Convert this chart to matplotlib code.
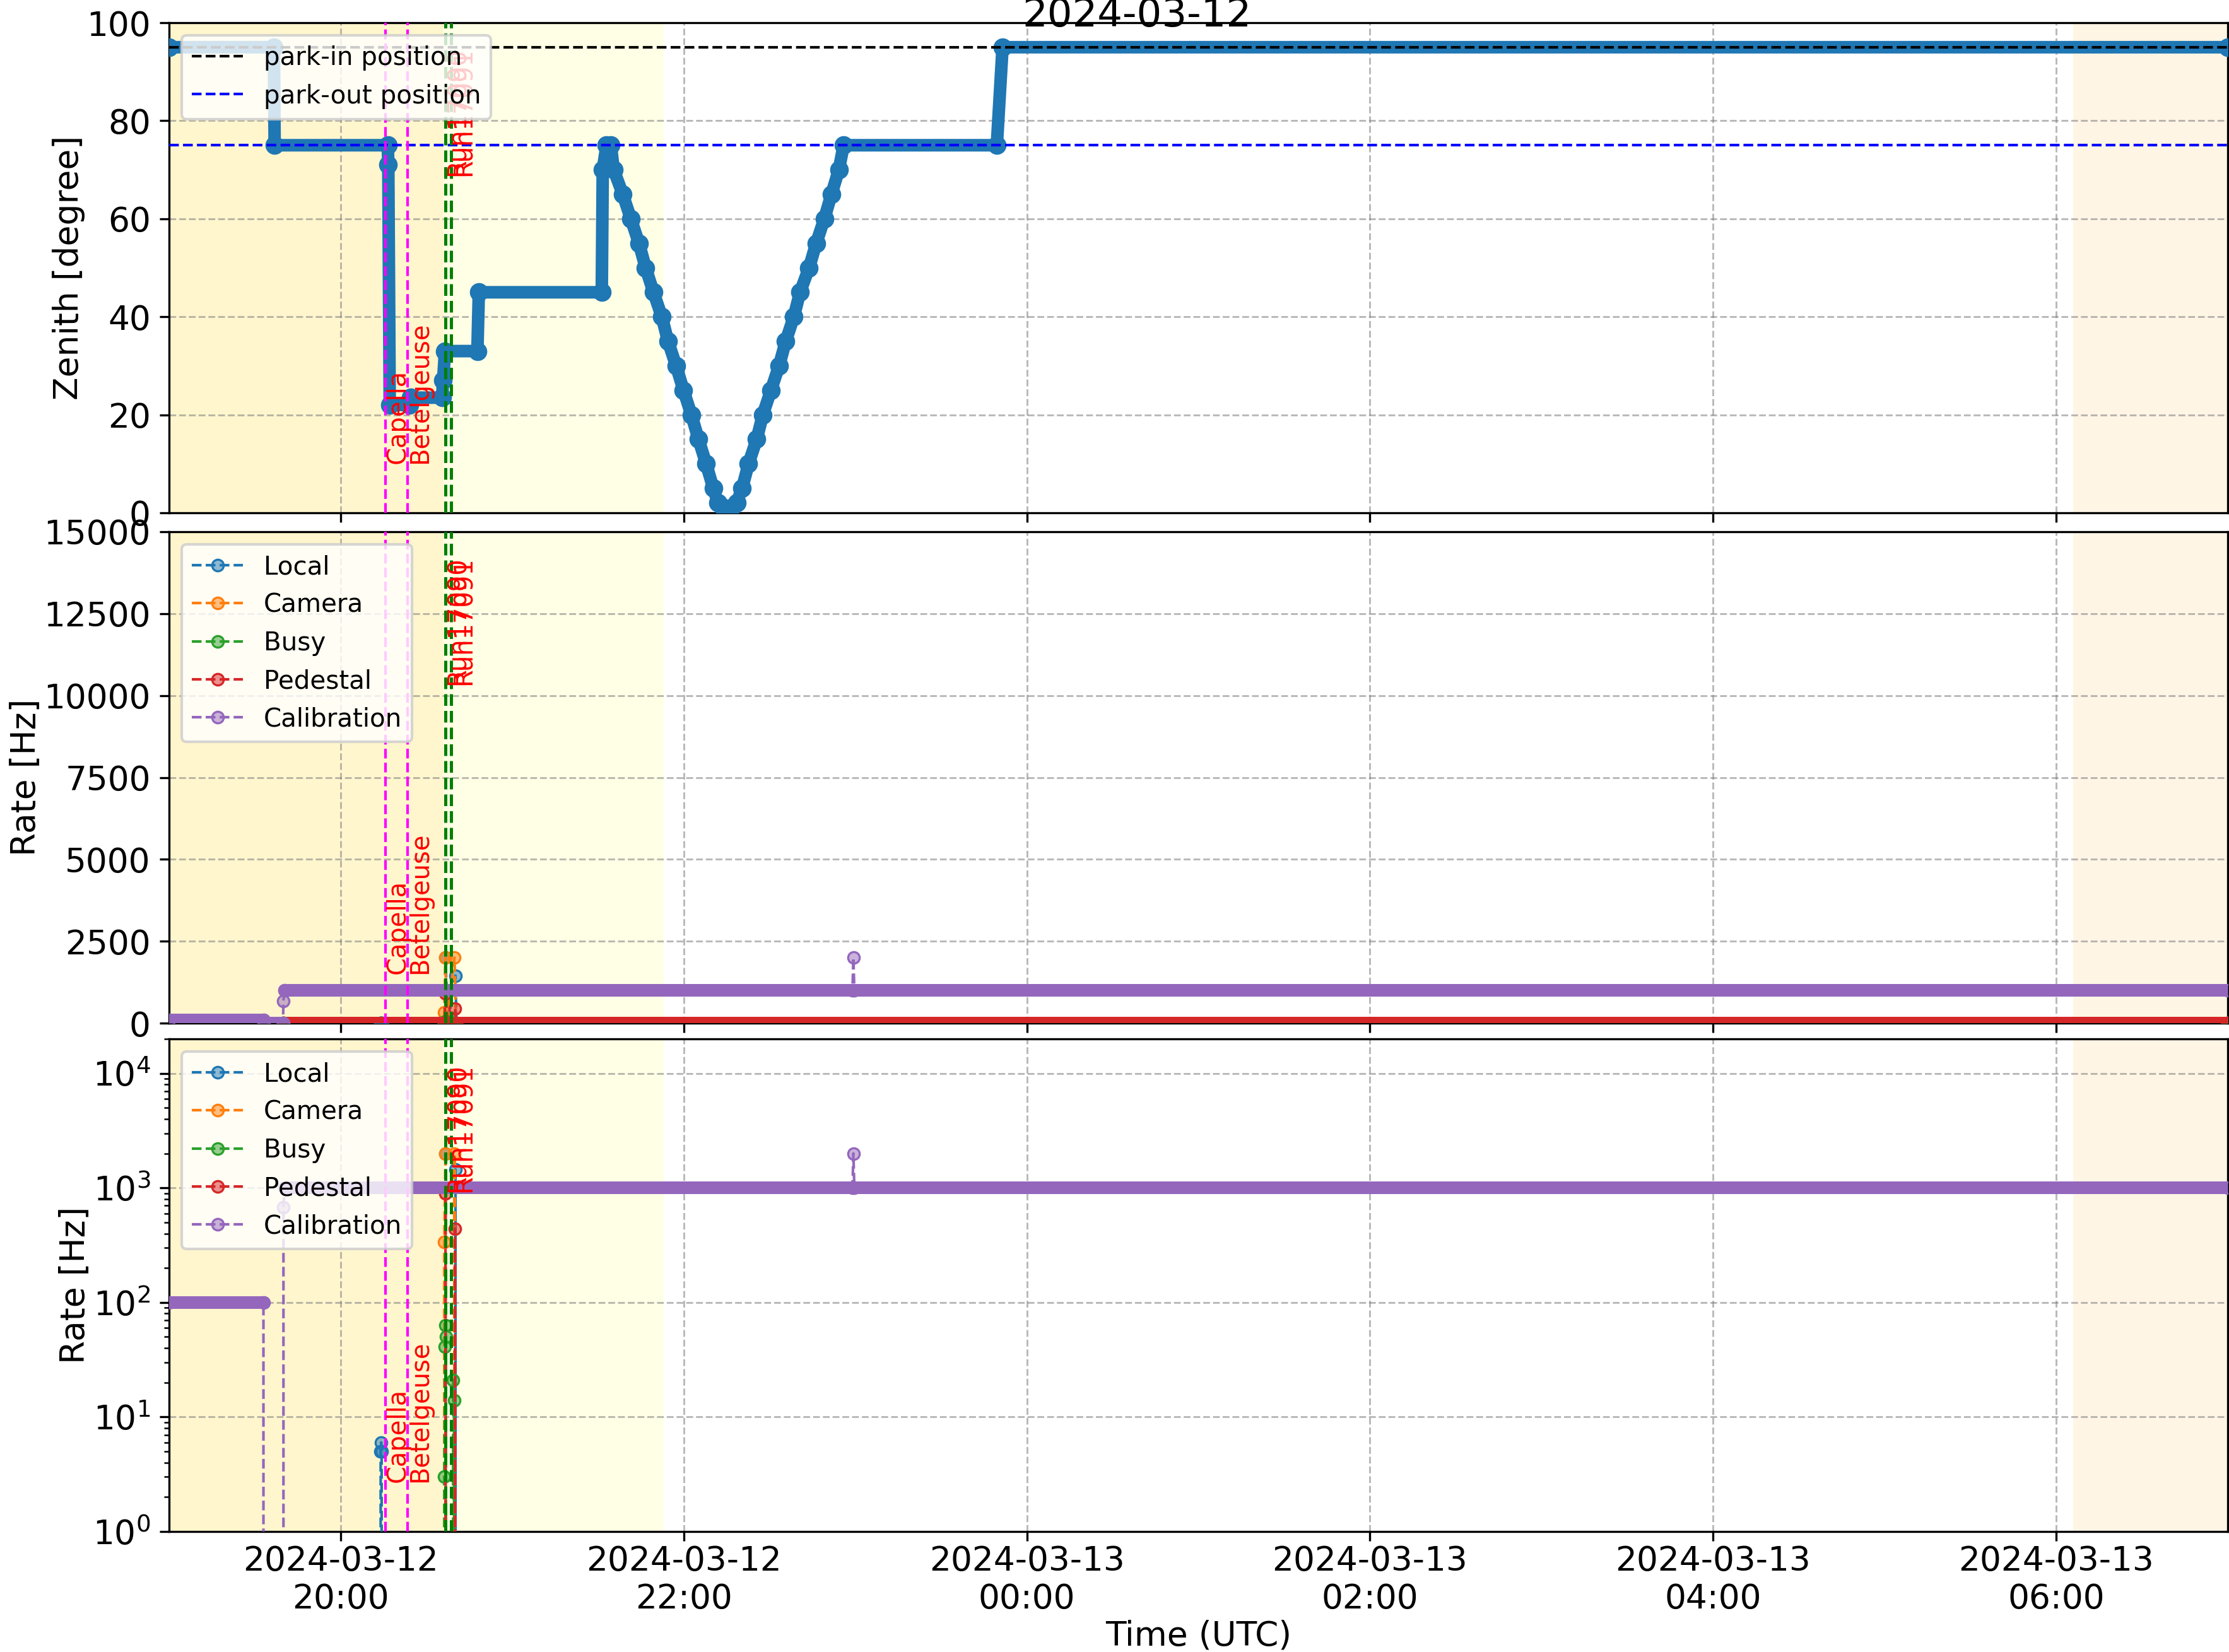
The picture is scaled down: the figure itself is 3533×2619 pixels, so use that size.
import matplotlib
matplotlib.use("Agg")
import matplotlib.pyplot as plt
import matplotlib.dates as mdates
import matplotlib.colors as mcolors
import pandas as pd

# ---------------- data ----------------
zen_time = ["2024-03-12 19:00:00", "2024-03-12 19:36:40", "2024-03-12 19:36:55",
            "2024-03-12 20:16:30", "2024-03-12 20:16:40", "2024-03-12 20:17:10",
            "2024-03-12 20:24:00", "2024-03-12 20:24:30", "2024-03-12 20:35:30",
            "2024-03-12 20:35:50", "2024-03-12 20:36:30", "2024-03-12 20:47:50",
            "2024-03-12 20:48:20", "2024-03-12 21:31:20", "2024-03-12 21:31:40",
            "2024-03-12 21:33:00", "2024-03-12 21:34:30", "2024-03-12 21:35:30",
            "2024-03-12 21:38:40", "2024-03-12 21:41:30", "2024-03-12 21:44:20",
            "2024-03-12 21:46:40", "2024-03-12 21:49:25", "2024-03-12 21:52:20",
            "2024-03-12 21:54:30", "2024-03-12 21:57:20", "2024-03-12 21:59:55",
            "2024-03-12 22:02:40", "2024-03-12 22:05:10", "2024-03-12 22:07:50",
            "2024-03-12 22:10:20", "2024-03-12 22:12:00", "2024-03-12 22:14:00",
            "2024-03-12 22:16:30", "2024-03-12 22:18:30", "2024-03-12 22:20:25",
            "2024-03-12 22:22:40", "2024-03-12 22:25:30", "2024-03-12 22:27:40",
            "2024-03-12 22:30:30", "2024-03-12 22:33:20", "2024-03-12 22:35:40",
            "2024-03-12 22:38:30", "2024-03-12 22:40:40", "2024-03-12 22:43:50",
            "2024-03-12 22:46:20", "2024-03-12 22:49:10", "2024-03-12 22:51:40",
            "2024-03-12 22:54:15", "2024-03-12 22:55:55", "2024-03-12 23:49:30",
            "2024-03-12 23:51:30", "2024-03-13 07:00:00"]
zen_deg = [95, 95, 75,
           75, 71, 22,
           22, 23.5, 23.5,
           27, 33, 33,
           45, 45, 70,
           75, 75, 70,
           65, 60, 55,
           50, 45, 40,
           35, 30, 25,
           20, 15, 10,
           5, 2, 1,
           1, 2, 5,
           10, 15, 20,
           25, 30, 35,
           40, 45, 50,
           55, 60, 65,
           70, 75, 75,
           95, 95]

park_in = 95
park_out = 75

local_time = ["2024-03-12 19:40:00", "2024-03-12 20:13:50", "2024-03-12 20:14:00",
              "2024-03-12 20:14:10", "2024-03-12 20:14:20", "2024-03-12 20:14:30",
              "2024-03-12 20:36:20", "2024-03-12 20:36:40", "2024-03-12 20:37:30",
              "2024-03-12 20:40:10", "2024-03-12 20:40:30", "2024-03-13 07:00:00"]
local_rate = [0, 0, 5, 6, 5, 0, 0, 2000, 0, 1450, 0, 0]

camera_time = ["2024-03-12 19:40:00", "2024-03-12 20:36:10", "2024-03-12 20:36:15",
               "2024-03-12 20:36:40", "2024-03-12 20:37:00", "2024-03-12 20:39:50",
               "2024-03-12 20:40:20", "2024-03-13 07:00:00"]
camera_rate = [0, 0, 335, 2000, 0, 2000, 0, 0]

busy_time = ["2024-03-12 19:40:00", "2024-03-12 20:36:10", "2024-03-12 20:36:15",
             "2024-03-12 20:36:30", "2024-03-12 20:36:40", "2024-03-12 20:36:50",
             "2024-03-12 20:37:30", "2024-03-12 20:39:20", "2024-03-12 20:39:40",
             "2024-03-12 20:40:00", "2024-03-13 07:00:00"]
busy_rate = [0, 0, 3, 41, 63, 50, 0, 21, 14, 0, 0]

pedestal_time = ["2024-03-12 19:40:00", "2024-03-12 20:36:20", "2024-03-12 20:36:40",
                 "2024-03-12 20:37:30", "2024-03-12 20:40:00", "2024-03-12 20:40:20",
                 "2024-03-13 07:00:00"]
pedestal_rate = [0, 0, 900, 0, 440, 0, 0]

calib_time = ["2024-03-12 19:00:00", "2024-03-12 19:33:00", "2024-03-12 19:33:10",
              "2024-03-12 19:39:50", "2024-03-12 19:40:00", "2024-03-12 19:40:20",
              "2024-03-12 22:59:00", "2024-03-12 22:59:20", "2024-03-12 22:59:40",
              "2024-03-13 07:00:00"]
calib_rate = [100, 100, 0, 0, 680, 1000, 1000, 2000, 1000, 1000]

series_names = ["Local", "Camera", "Busy", "Pedestal", "Calibration"]

star_names = ["Capella", "Betelgeuse"]
star_times = ["2024-03-12 20:15:35", "2024-03-12 20:23:28"]
run_names = ["Run17090", "Run17091"]
run_times = ["2024-03-12 20:36:40", "2024-03-12 20:38:40"]

twilight_spans = [("2024-03-12 18:30:00", "2024-03-12 20:36:00"),
                  ("2024-03-13 06:06:00", "2024-03-13 07:30:00")]
moon_spans = [("2024-03-12 18:30:00", "2024-03-12 21:53:00")]

x_start, x_end = "2024-03-12 19:00:00", "2024-03-13 07:00:00"
title = "2024-03-12"

# ---------------- style ----------------
FS = 12.8
FS_LEG = 9.7
FS_ANN = 9.6
MS = 4.4
BAND = 4.8

fig = plt.figure(figsize=(3533 / 300, 2619 / 300), dpi=300)
left, width = 268 / 3533, (3531 - 268) / 3533
ax1 = fig.add_axes([left, 1 - 813 / 2619, width, (813 - 36) / 2619])
ax2 = fig.add_axes([left, 1 - 1622 / 2619, width, (1622 - 843) / 2619], sharex=ax1)
ax3 = fig.add_axes([left, 1 - 2428 / 2619, width, (2428 - 1647) / 2619], sharex=ax1)

T = lambda lst: pd.to_datetime(lst)


def decorate(ax):
    for a, b in twilight_spans:
        ax.axvspan(pd.Timestamp(a), pd.Timestamp(b), color="orange", alpha=0.1, lw=0, zorder=0)
    for a, b in moon_spans:
        ax.axvspan(pd.Timestamp(a), pd.Timestamp(b), color="yellow", alpha=0.1, lw=0, zorder=0)
    ax.grid(True, which="major", ls="--", color="gray", alpha=0.55, lw=0.7)
    trans = ax.get_xaxis_transform()
    for name, t in zip(star_names, star_times):
        ax.axvline(pd.Timestamp(t), color="magenta", ls="--", lw=1.0, zorder=4)
        ax.text(pd.Timestamp(t), 0.1, name, rotation=90, color="red", fontsize=FS_ANN,
                ha="left", va="bottom", transform=trans, zorder=5)
    for name, t in zip(run_names, run_times):
        ax.axvline(pd.Timestamp(t), color="green", ls="--", lw=1.2, zorder=4)
        ax.text(pd.Timestamp(t), 0.95, name, rotation=90, color="red", fontsize=FS_ANN,
                ha="left", va="top", transform=trans, zorder=5)
    ax.tick_params(labelsize=FS)
    ax.tick_params(axis="x", pad=1.5)


def plateaus(t, v, positive_only=False):
    for i in range(len(v) - 1):
        if v[i] == v[i + 1] and (not positive_only or v[i] > 0):
            yield t[i], t[i + 1], v[i]


# ---------------- zenith panel ----------------
decorate(ax1)
zt = T(zen_time)
c0 = "#1f77b4"
ax1.plot(zt, zen_deg, "-", color=c0, lw=BAND, solid_capstyle="round",
         solid_joinstyle="round", zorder=3)
ax1.plot(zt, zen_deg, "o", ms=6.2, mec=c0, mfc=c0, mew=0.9, zorder=3)
ax1.axhline(park_in, color="k", ls="--", lw=1.0, label="park-in position", zorder=3.5)
ax1.axhline(park_out, color="b", ls="--", lw=1.0, label="park-out position", zorder=3.5)
ax1.set_ylim(0, 100)
ax1.set_ylabel("Zenith [degree]", fontsize=FS, labelpad=0.5)
leg = ax1.legend(loc="upper left", fontsize=FS_LEG)
leg.set_zorder(10)

# ---------------- rate panels ----------------
all_series = [(local_time, local_rate), (camera_time, camera_rate), (busy_time, busy_rate),
              (pedestal_time, pedestal_rate), (calib_time, calib_rate)]
colors = ["C0", "C1", "C2", "C3", "C4"]

for ax, logscale in [(ax2, False), (ax3, True)]:
    decorate(ax)
    if logscale:
        ax.set_yscale("log")
    for (tl, vl), name, col in zip(all_series, series_names, colors):
        tt = T(tl)
        rgb = mcolors.to_rgba(col)
        for a, b, v in plateaus(list(tt), vl, positive_only=logscale):
            ax.plot([a, b], [v, v], "-", color=col, lw=BAND, solid_capstyle="round", zorder=3)
        ax.plot(tt, vl, "--o", color=col, lw=1.0, ms=MS, mec=col,
                mfc=(rgb[0], rgb[1], rgb[2], 0.5), mew=0.8, label=name, zorder=3)
    ax.set_ylabel("Rate [Hz]", fontsize=FS, labelpad=0.5)
    lg = ax.legend(loc="upper left", fontsize=FS_LEG)
    lg.set_zorder(10)

ax2.set_ylim(0, 15000)
ax2.set_yticks(range(0, 15001, 2500))
ax3.set_ylim(1, 2e4)

ax1.set_xlim(pd.Timestamp(x_start), pd.Timestamp(x_end))
ax3.xaxis.set_major_locator(mdates.HourLocator(byhour=range(0, 24, 2)))
ax3.xaxis.set_major_formatter(mdates.DateFormatter("%Y-%m-%d\n%H:%M"))
plt.setp(ax1.get_xticklabels(), visible=False)
plt.setp(ax2.get_xticklabels(), visible=False)
ax3.set_xlabel("Time (UTC)", fontsize=FS, labelpad=1.5)

fig.text(0.510, 1 - 42 / 2619, title, ha="center", va="baseline", fontsize=15)

fig.savefig("out.png", dpi=300)
